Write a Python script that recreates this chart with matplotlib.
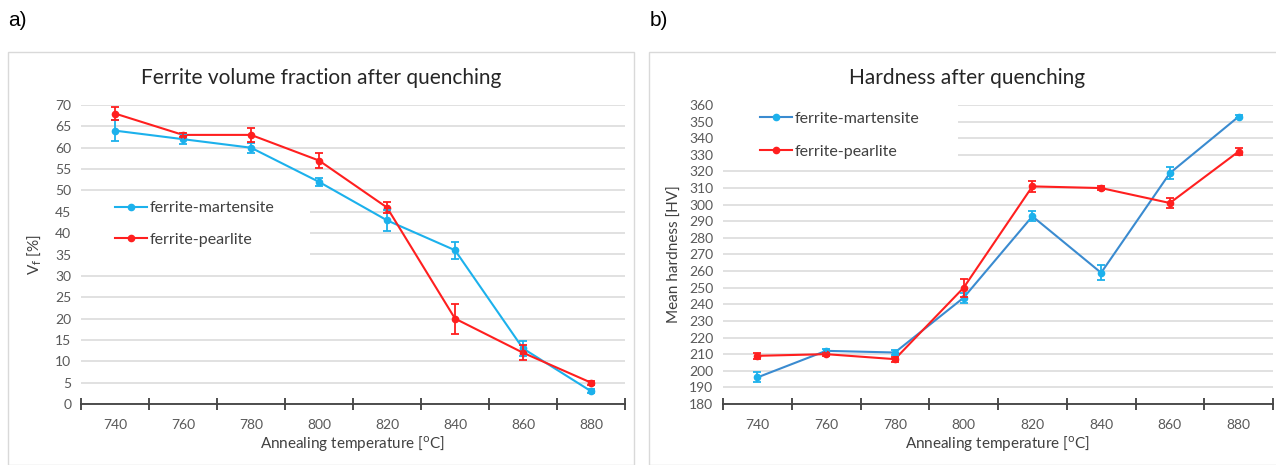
import matplotlib
matplotlib.use("Agg")
from matplotlib import pyplot as plt
from matplotlib.patches import Rectangle

# data
temps = ["740", "760", "780", "800", "820", "840", "860", "880"]

vf_martensite = [64, 62, 60, 52, 43, 36, 13, 3]
vf_martensite_err = [2.5, 1.2, 1.2, 1.0, 2.5, 2.0, 1.8, 0.4]
vf_pearlite = [68, 63, 63, 57, 46, 20, 12, 5]
vf_pearlite_err = [1.6, 0.5, 1.7, 1.8, 1.3, 3.5, 1.7, 0.5]

hv_martensite = [196, 212, 211, 244, 293, 259, 319, 353]
hv_martensite_err = [3, 1, 1.5, 3, 3, 4.5, 3.5, 1]
hv_pearlite = [209, 210, 207, 250, 311, 310, 301, 332]
hv_pearlite_err = [2, 1, 1.5, 5.5, 3.5, 1, 3, 2]

W, H = 1276, 465
CYAN = "#1cb1ec"
BLUE = "#3a8bd0"
RED = "#ff1f1f"
GRID = "#d9d9d9"
TXT = "#595959"
FONT = "Lato"


def px(x0, y_top, x1, y_bot):
    """pixel box -> figure fraction rect"""
    return [x0 / W, (H - y_bot) / H, (x1 - x0) / W, (y_bot - y_top) / H]


def style_axes(ax, ymin, ymax, ystep):
    n = len(temps)
    ax.set_xlim(-0.5, n - 0.5)
    ax.set_ylim(ymin, ymax)
    ax.set_yticks(range(ymin, ymax + 1, ystep))
    ax.set_xticks([i - 0.5 for i in range(n + 1)])
    ax.set_xticklabels([])
    ax.set_xticks(range(n), minor=True)
    ax.set_xticklabels(temps, minor=True)
    ax.tick_params(axis="x", which="major", direction="inout", length=9,
                   width=1.3, color="#404040")
    ax.tick_params(axis="x", which="minor", length=0, pad=11,
                   labelsize=10, labelcolor=TXT)
    ax.tick_params(axis="y", length=0, pad=7, labelsize=10, labelcolor=TXT)
    for lab in ax.get_xticklabels(minor=True) + ax.get_yticklabels():
        lab.set_fontfamily(FONT)
    for s in ["top", "right", "left"]:
        ax.spines[s].set_visible(False)
    ax.spines["bottom"].set_color("#404040")
    ax.spines["bottom"].set_linewidth(1.3)
    ax.spines["bottom"].set_zorder(5)
    ax.grid(axis="y", color=GRID, lw=1.1)
    ax.set_axisbelow(True)


def series(ax, y, err, line_color, mark_color, label):
    x = range(len(temps))
    ax.plot(x, y, color=line_color, lw=1.5, zorder=3, label=label,
            marker="o", ms=4.5, mfc=mark_color, mec=mark_color)
    ax.errorbar(x, y, yerr=err, fmt="none", ecolor=mark_color,
                elinewidth=1.3, capsize=3, capthick=1.3, zorder=4)


fig = plt.figure(figsize=(W / 100, H / 100), dpi=100)
fig.patch.set_facecolor("white")

# chart-area boxes
for x0, x1 in [(8, 634), (649, 1290)]:
    fig.patches.append(Rectangle((x0 / W, 0), (x1 - x0) / W, (H - 52) / H,
                                 transform=fig.transFigure, fill=False,
                                 ec=GRID, lw=1.0))

fig.text(8 / W, 1 - 20 / H, "a)", fontsize=15, family="Liberation Sans",
         va="center", ha="left")
fig.text(650 / W, 1 - 20 / H, "b)", fontsize=15, family="Liberation Sans",
         va="center", ha="left")

# a) ferrite volume fraction
ax1 = fig.add_axes(px(81, 105, 625, 404))
style_axes(ax1, 0, 70, 5)
series(ax1, vf_martensite, vf_martensite_err, CYAN, CYAN, "ferrite-martensite")
series(ax1, vf_pearlite, vf_pearlite_err, RED, RED, "ferrite-pearlite")
ax1.add_patch(Rectangle((0, 32 / 70), 0.421, 16.5 / 70, transform=ax1.transAxes,
                        fc="white", ec="none", zorder=1))
ax1.legend(loc="center left", bbox_to_anchor=(0.0625, 0.602), frameon=False,
           borderpad=0, borderaxespad=0, handlelength=2.0, handletextpad=0.2,
           labelspacing=1.1, prop={"family": FONT, "size": 11.5},
           labelcolor="#404040")
ax1.set_ylabel(r"V$_\mathrm{f}$ [%]", fontsize=11, family=FONT, color="#404040",
               labelpad=8)
ax1.set_xlabel("Annealing temperature [$\\mathrm{^o}$C]", fontsize=11, family=FONT,
               color="#404040", labelpad=2)
fig.text(321 / W, 1 - 78 / H, "Ferrite volume fraction after quenching",
         fontsize=15, family=FONT, color="#262626", ha="center", va="center")

# b) hardness
ax2 = fig.add_axes(px(723, 105, 1273, 404))
style_axes(ax2, 180, 360, 10)
series(ax2, hv_martensite, hv_martensite_err, BLUE, CYAN, "ferrite-martensite")
series(ax2, hv_pearlite, hv_pearlite_err, RED, RED, "ferrite-pearlite")
ax2.add_patch(Rectangle((0, 145 / 180), 0.427, 0.22, transform=ax2.transAxes,
                        fc="white", ec="none", zorder=1, clip_on=False))
ax2.legend(loc="center left", bbox_to_anchor=(0.067, 0.899), frameon=False,
           borderpad=0, borderaxespad=0, handlelength=2.0, handletextpad=0.2,
           labelspacing=1.15, prop={"family": FONT, "size": 11.5},
           labelcolor="#404040")
ax2.set_ylabel("Mean hardness [HV]", fontsize=11, family=FONT, color="#404040",
               labelpad=5)
ax2.set_xlabel("Annealing temperature [$\\mathrm{^o}$C]", fontsize=11, family=FONT,
               color="#404040", labelpad=2)
fig.text(967 / W, 1 - 78 / H, "Hardness after quenching",
         fontsize=15, family=FONT, color="#262626", ha="center", va="center")

fig.savefig("out.png", dpi=100)
